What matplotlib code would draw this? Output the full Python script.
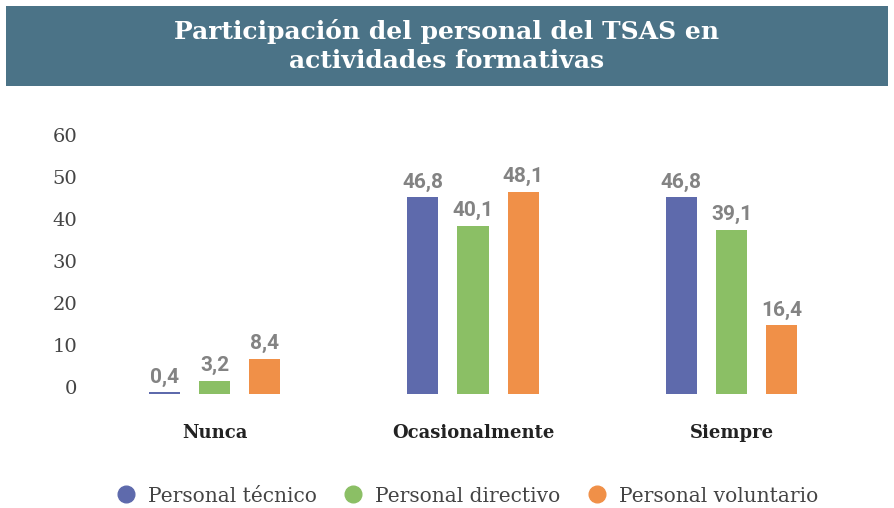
import matplotlib.pyplot as plt
import matplotlib.patches as patches
from matplotlib.lines import Line2D
import numpy as np

categories = ["Nunca", "Ocasionalmente", "Siempre"]
series_names = ["Personal técnico", "Personal directivo", "Personal voluntario"]
tecnico = [0.4, 46.8, 46.8]
directivo = [3.2, 40.1, 39.1]
voluntario = [8.4, 48.1, 16.4]
yticks = [0, 10, 20, 30, 40, 50, 60]

colors = ["#5e6aac", "#8bbf65", "#f09048"]
title_bg = "#4b7387"

W, H = 894, 508
fig = plt.figure(figsize=(W / 100, H / 100), dpi=100)

# title band
band = patches.Rectangle(
    (6 / W, 1 - 86 / H), 882 / W, 80 / H,
    transform=fig.transFigure, facecolor=title_bg, edgecolor="none", zorder=0,
)
fig.patches.append(band)
fig.text(
    447 / W, 1 - 46 / H,
    "Participación del personal del TSAS en\nactividades formativas",
    ha="center", va="center", color="white", fontsize=18,
    fontweight="bold", family="DejaVu Serif", linespacing=1.3,
)

# axes placed so groups land where the reference has them
ax_left, ax_right = 90, 860
ax_top, ax_bot = 120, 410
ax = fig.add_axes([ax_left / W, 1 - ax_bot / H, (ax_right - ax_left) / W, (ax_bot - ax_top) / H])
px_group = 258.5
x0 = 214.5
ax.set_xlim((ax_left - x0) / px_group, (ax_right - x0) / px_group)
px_unit = 4.2
base = 394
ax.set_ylim(-(ax_bot - base) / px_unit, (base - ax_top) / px_unit)

x = np.arange(len(categories))
offset = 0.195
width = 0.12
for i, (vals, c) in enumerate(zip([tecnico, directivo, voluntario], colors)):
    xs = x + (i - 1) * offset
    ax.bar(xs, vals, width=width, color=c, zorder=2)
    for xi, v in zip(xs, vals):
        ax.annotate(
            f"{v:.1f}".replace(".", ","), (xi, v), xytext=(0, 4),
            textcoords="offset points", ha="center", va="bottom",
            fontsize=15, fontweight="bold", color="#838383", family="Roboto",
        )

for s in ax.spines.values():
    s.set_visible(False)
ax.set_yticks(yticks)
ax.set_yticklabels([str(t) for t in yticks], family="DejaVu Serif",
                   fontsize=14, color="#444444", va="baseline")
ax.tick_params(axis="y", length=0, pad=9)
ax.set_xticks(x)
ax.set_xticklabels(categories, family="DejaVu Serif", fontsize=13,
                   fontweight="bold", color="#222222")
ax.tick_params(axis="x", length=0, pad=10)

handles = [
    Line2D([], [], marker="o", linestyle="none", markersize=12,
           markerfacecolor=c, markeredgecolor=c)
    for c in colors
]
leg = fig.legend(
    handles, series_names, loc="center", bbox_to_anchor=(468 / W, 1 - 496 / H),
    ncol=3, frameon=False, handlelength=0.8, handletextpad=0.7,
    columnspacing=1.4, prop={"family": "DejaVu Serif", "size": 14.5},
)
for t in leg.get_texts():
    t.set_color("#444444")

fig.savefig("out.png", dpi=100, facecolor="white")
